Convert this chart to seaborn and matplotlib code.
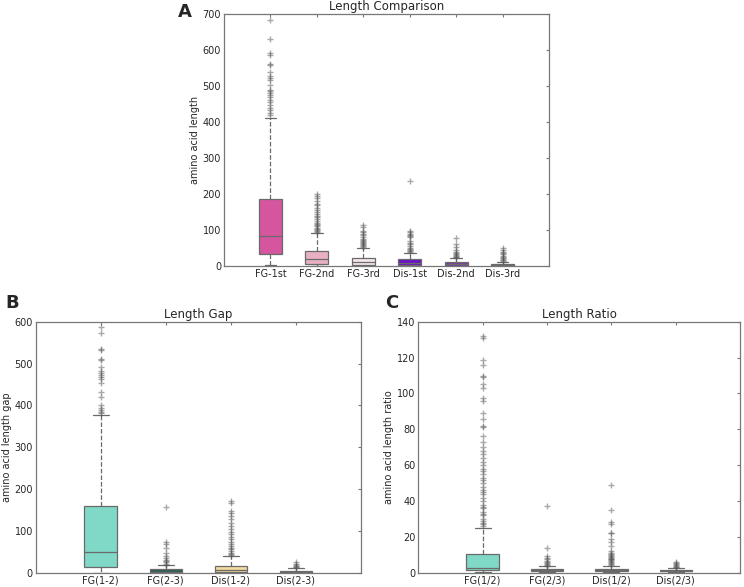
import matplotlib
matplotlib.use("Agg")          # headless backend
import matplotlib.pyplot as plt
import seaborn as sns

# ── Panel A : Length Comparison ──────────────────────────────────────────────
A_LABELS = ["FG-1st", "FG-2nd", "FG-3rd", "Dis-1st", "Dis-2nd", "Dis-3rd"]
A_COLORS = ["#d6559f", "#e9b0c3", "#f6e6ee", "#6a12c8", "#7b3aa5", "#a848c8"]
A_WLO = [2, 0, 0, 0, 0, 0]
A_Q1 = [32, 5, 3, 3, 1, 1]
A_MED = [82, 18, 10, 9, 5, 3]
A_Q3 = [187, 42, 23, 18, 10, 6]
A_WHI = [410, 92, 51, 37, 22, 12]
A_FLIERS = [
    [683, 632, 592, 586, 560, 558, 540, 528, 522, 516, 502, 490, 485, 480,
     476, 470, 462, 455, 448, 440, 433, 426, 420],
    [200, 195, 188, 180, 172, 168, 160, 155, 150, 145, 140, 135, 130, 125,
     120, 117, 113, 110, 106, 103, 100, 97, 94],
    [115, 108, 98, 93, 88, 85, 80, 76, 72, 70, 67, 64, 61, 58, 55, 53],
    [236, 97, 93, 88, 85, 82, 80, 70, 65, 60, 55, 50, 46, 44, 42, 40],
    [78, 60, 52, 45, 40, 37, 34, 30, 28, 26, 24],
    [50, 45, 40, 36, 32, 28, 25, 22, 19, 16, 14],
]

# ── Panel B : Length Gap ─────────────────────────────────────────────────────
B_LABELS = ["FG(1-2)", "FG(2-3)", "Dis(1-2)", "Dis(2-3)"]
B_WLO = [0, 0, 0, 0]
B_Q1 = [14, 0, 1, 0]
B_MED = [49, 3, 6, 2]
B_Q3 = [159, 9, 17, 4]
B_WHI = [377, 19, 40, 12]
B_FLIERS = [
    [588, 572, 535, 532, 512, 508, 492, 482, 477, 472, 467, 462, 453, 432,
     420, 400, 395, 390, 385, 382],
    [158, 73, 68, 60, 48, 40, 35, 32, 28, 25, 22, 20],
    [172, 168, 147, 143, 135, 128, 120, 112, 105, 98, 92, 85, 80, 75, 70,
     65, 60, 56, 52, 48, 45, 42],
    [25, 22, 18, 16, 14, 13],
]

# ── Panel C : Length Ratio ───────────────────────────────────────────────────
C_LABELS = ["FG(1/2)", "FG(2/3)", "Dis(1/2)", "Dis(2/3)"]
C_WLO = [0.5, 0.5, 0.5, 0.5]
C_Q1 = [1.5, 1.2, 1.1, 1.0]
C_MED = [3.0, 1.6, 1.5, 1.3]
C_Q3 = [10.8, 2.2, 2.3, 1.8]
C_WHI = [25.3, 3.6, 4.1, 2.8]
C_FLIERS = [
    [132, 131, 118.5, 116, 110, 109, 105, 103, 97.5, 96, 89, 86, 82, 81.5,
     76.5, 73, 70, 68, 66, 64, 62, 60, 58, 57, 55, 53, 52, 50, 48, 46, 45,
     44, 42, 40, 38, 37, 36, 34, 33, 32, 30, 29, 28, 27, 26],
    [37.5, 14, 9.5, 8.5, 7.5, 6.5, 6, 5.5, 5, 4.5, 4],
    [49, 35, 28.5, 27, 22.5, 22, 19, 17.5, 15, 12, 11, 10.5, 10, 9.5, 9,
     8.5, 8, 7.5, 7, 6.5, 6, 5.5, 5, 4.5],
    [6.2, 5.5, 5, 4.5, 4, 3.5, 3.2],
]
BC_COLORS = ["#7fd9c6", "#2f5e58", "#f3da9e", "#8c5a2e"]

# ── Style ────────────────────────────────────────────────────────────────────
LINE = "#6a6a6a"
sns.set_style("white", {
    "axes.edgecolor": "#777777",
    "xtick.direction": "in", "ytick.direction": "in",
    "xtick.top": True, "ytick.right": True,
    "xtick.color": "#777777", "ytick.color": "#777777",
})
plt.rcParams["font.family"] = ["DejaVu Sans"]
plt.rcParams["axes.linewidth"] = 0.9
plt.rcParams["xtick.major.size"] = 2.5
plt.rcParams["ytick.major.size"] = 2.5


def draw_panel(ax, labels, colors, wlo, q1, med, q3, whi, fliers,
               title, ylabel, ymax, ystep):
    stats = []
    for i, lab in enumerate(labels):
        stats.append({"label": lab, "whislo": wlo[i], "q1": q1[i],
                      "med": med[i], "q3": q3[i], "whishi": whi[i],
                      "fliers": fliers[i]})
    pos = list(range(1, len(labels) + 1))
    parts = ax.bxp(
        stats, positions=pos, widths=0.5, patch_artist=True,
        boxprops=dict(edgecolor=LINE, linewidth=0.9),
        medianprops=dict(color=LINE, linewidth=0.9),
        whiskerprops=dict(color=LINE, linewidth=0.9, linestyle="--"),
        capprops=dict(color=LINE, linewidth=0.9),
        flierprops=dict(marker="+", markeredgecolor="#555555",
                        markersize=4.5, alpha=0.5, linestyle="none"),
    )
    pal = sns.color_palette(colors)
    for patch, c in zip(parts["boxes"], pal):
        patch.set_facecolor(c)
    ax.set_xlim(0, len(labels) + 1)
    ax.set_ylim(0, ymax)
    ax.set_yticks(range(0, ymax + 1, ystep))
    ax.set_xticks(pos)
    ax.set_xticklabels(labels)
    ax.tick_params(labelsize=7, labelcolor="#262626", pad=2)
    ax.set_title(title, fontsize=8.5, color="#262626", pad=3)
    ax.set_ylabel(ylabel, fontsize=7, color="#262626", labelpad=2)


fig = plt.figure(figsize=(7.44, 5.87), dpi=100)
ax_a = fig.add_axes([0.301, 0.547, 0.437, 0.429])
ax_b = fig.add_axes([0.048, 0.024, 0.437, 0.428])
ax_c = fig.add_axes([0.562, 0.024, 0.433, 0.428])

draw_panel(ax_a, A_LABELS, A_COLORS, A_WLO, A_Q1, A_MED, A_Q3, A_WHI,
           A_FLIERS, "Length Comparison", "amino acid length", 700, 100)
draw_panel(ax_b, B_LABELS, BC_COLORS, B_WLO, B_Q1, B_MED, B_Q3, B_WHI,
           B_FLIERS, "Length Gap", "amino acid length gap", 600, 100)
draw_panel(ax_c, C_LABELS, BC_COLORS, C_WLO, C_Q1, C_MED, C_Q3, C_WHI,
           C_FLIERS, "Length Ratio", "amino acid length ratio", 140, 20)

for txt, x, y in [("A", 0.249, 0.979), ("B", 0.016, 0.484), ("C", 0.526, 0.484)]:
    fig.text(x, y, txt, fontsize=13, fontweight="bold", ha="center", va="center")

fig.savefig("out.png", dpi=100)
